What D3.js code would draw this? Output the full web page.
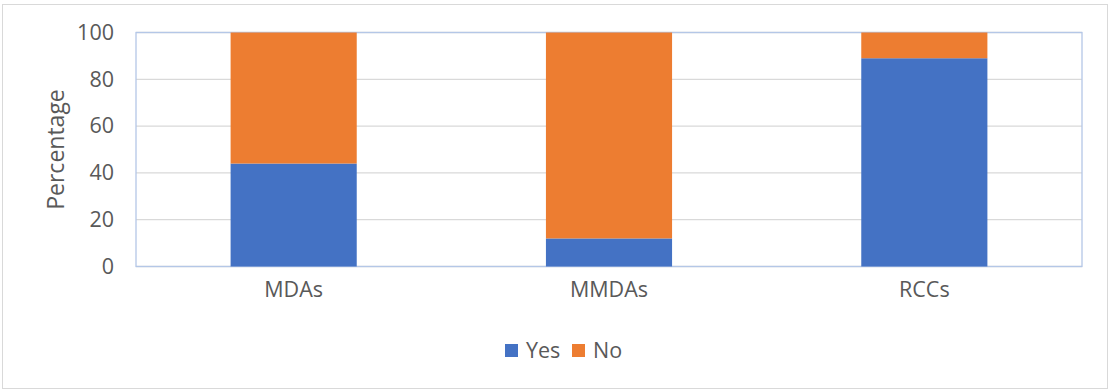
<!DOCTYPE html>
<html>
<head>
<meta charset="utf-8">
<script src="https://cdn.jsdelivr.net/npm/d3@7"></script>
<style>
  html, body { margin: 0; padding: 0; background: #fff; }
  svg { display: block; }
  text { font-family: "Open Sans", "Noto Sans", sans-serif; fill: #595959; }
</style>
</head>
<body>
<svg id="chart" width="1112" height="390"></svg>
<script>
// Share of respondents answering Yes / No, per institution type
const categories = ["MDAs", "MMDAs", "RCCs"];
const yesValues = [44, 12, 89];
const noValues = [56, 88, 11];
const seriesNames = ["Yes", "No"];
const seriesColors = ["#4472C4", "#ED7D31"];
const yTicks = [0, 20, 40, 60, 80, 100];
const yTitle = "Percentage";

const svg = d3.select("#chart");
const W = 1112, H = 390;
const plot = { left: 136, right: 1082, top: 32.5, bottom: 266.5 };
const fontSize = "21.5px";

// outer chart frame
svg.append("rect")
  .attr("x", 2.5).attr("y", 4.5)
  .attr("width", W - 4.5 - 2.5).attr("height", H - 1.5 - 4.5)
  .attr("fill", "#fff").attr("stroke", "#d9d9d9").attr("stroke-width", 1);

const x = d3.scaleBand()
  .domain(categories)
  .range([plot.left, plot.right])
  .paddingInner(0.6)
  .paddingOuter(0.3);

const y = d3.scaleLinear()
  .domain([0, 100])
  .range([plot.bottom, plot.top]);

// horizontal gridlines
svg.append("g")
  .selectAll("line")
  .data(yTicks)
  .join("line")
  .attr("x1", plot.left).attr("x2", plot.right)
  .attr("y1", d => y(d)).attr("y2", d => y(d))
  .attr("stroke", "#d9d9d9").attr("stroke-width", 1.3);

// plot-area border
svg.append("rect")
  .attr("x", plot.left).attr("y", plot.top)
  .attr("width", plot.right - plot.left).attr("height", plot.bottom - plot.top)
  .attr("fill", "none").attr("stroke", "#b4c7e7").attr("stroke-width", 1.3);

// stacked bars
const rows = categories.map((c, i) => ({ cat: c, Yes: yesValues[i], No: noValues[i] }));
const stack = d3.stack().keys(seriesNames)(rows);
const color = d3.scaleOrdinal().domain(seriesNames).range(seriesColors);

svg.append("g")
  .selectAll("g")
  .data(stack)
  .join("g")
  .attr("fill", d => color(d.key))
  .selectAll("rect")
  .data(d => d)
  .join("rect")
  .attr("x", d => x(d.data.cat))
  .attr("width", x.bandwidth())
  .attr("y", d => y(d[1]))
  .attr("height", d => y(d[0]) - y(d[1]));

// y axis labels
const yAxis = d3.axisLeft(y).tickValues(yTicks).tickSize(0).tickPadding(22);
const yg = svg.append("g").attr("transform", `translate(${plot.left},0)`).call(yAxis);
yg.select(".domain").remove();
yg.selectAll("text").style("font-size", fontSize).attr("fill", "#595959")
  .style("font-family", "'Open Sans', sans-serif");

// x axis labels
const xAxis = d3.axisBottom(x).tickSize(0).tickPadding(15);
const xg = svg.append("g").attr("transform", `translate(0,${plot.bottom})`).call(xAxis);
xg.select(".domain").remove();
xg.selectAll("text").style("font-size", fontSize).attr("fill", "#595959")
  .style("font-family", "'Open Sans', sans-serif");

// y axis title
svg.append("text")
  .attr("transform", `translate(64,${(plot.top + plot.bottom) / 2}) rotate(-90)`)
  .attr("text-anchor", "middle")
  .style("font-size", "23px")
  .text(yTitle);

// legend
const legend = svg.append("g").attr("transform", "translate(505,344)");
const items = [
  { name: seriesNames[0], color: seriesColors[0], dx: 0 },
  { name: seriesNames[1], color: seriesColors[1], dx: 67 }
];
const li = legend.selectAll("g").data(items).join("g")
  .attr("transform", d => `translate(${d.dx},0)`);
li.append("rect").attr("width", 13).attr("height", 13).attr("fill", d => d.color);
li.append("text").attr("x", 21).attr("y", 6.5).attr("dy", "0.35em")
  .style("font-size", fontSize).text(d => d.name);
</script>
</body>
</html>
